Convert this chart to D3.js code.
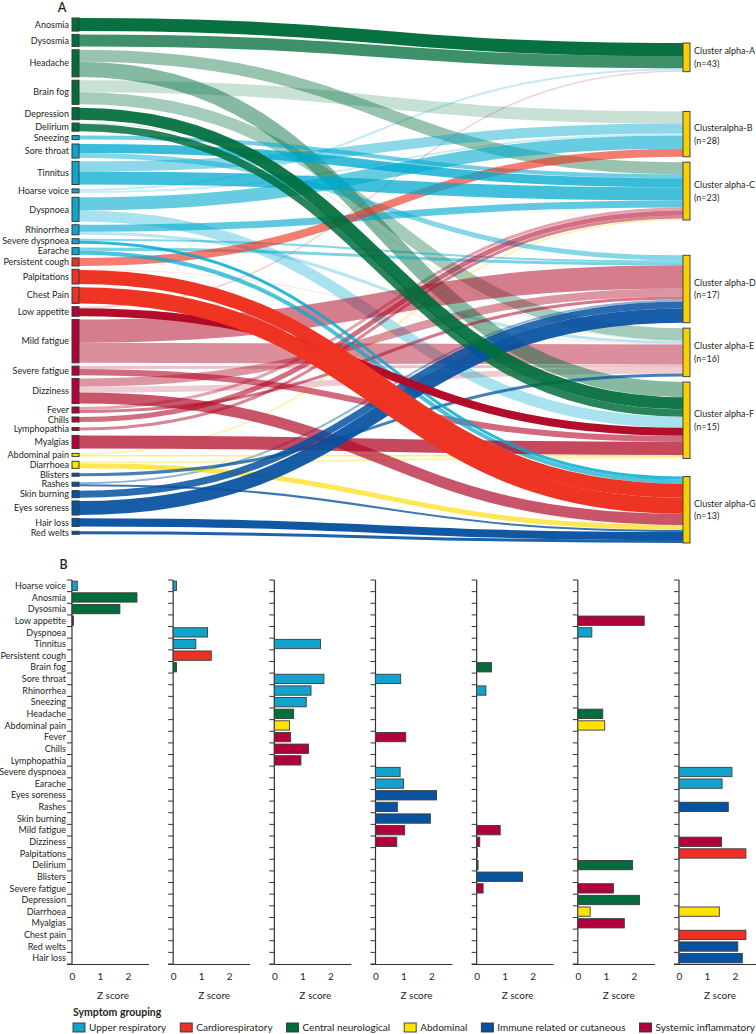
<!DOCTYPE html>
<html><head><meta charset="utf-8">
<script src="https://cdn.jsdelivr.net/npm/d3@7/dist/d3.min.js"></script>
<style>
body{margin:0;background:#fff}
svg{display:block}
text{font-family:Lato,"Open Sans",sans-serif;fill:#231f20}
</style></head>
<body><svg id="c" width="756" height="1034"></svg>
<script>
// ---------------- DATA ----------------
const groups = ["Upper respiratory","Cardiorespiratory","Central neurological","Abdominal","Immune related or cutaneous","Systemic inflammatory"];

// Panel A left nodes (top to bottom) and their symptom grouping
const symptoms = ["Anosmia","Dysosmia","Headache","Brain fog","Depression","Delirium","Sneezing","Sore throat","Tinnitus","Hoarse voice","Dyspnoea","Rhinorrhea","Severe dyspnoea","Earache","Persistent cough","Palpitations","Chest Pain","Low appetite","Mild fatigue","Severe fatigue","Dizziness","Fever","Chills","Lymphopathia","Myalgias","Abdominal pain","Diarrhoea","Blisters","Rashes","Skin burning","Eyes soreness","Hair loss","Red welts"];
const symptomGroup = ["Central neurological","Central neurological","Central neurological","Central neurological","Central neurological","Central neurological","Upper respiratory","Upper respiratory","Upper respiratory","Upper respiratory","Upper respiratory","Upper respiratory","Upper respiratory","Upper respiratory","Cardiorespiratory","Cardiorespiratory","Cardiorespiratory","Systemic inflammatory","Systemic inflammatory","Systemic inflammatory","Systemic inflammatory","Systemic inflammatory","Systemic inflammatory","Systemic inflammatory","Systemic inflammatory","Abdominal","Abdominal","Immune related or cutaneous","Immune related or cutaneous","Immune related or cutaneous","Immune related or cutaneous","Immune related or cutaneous","Immune related or cutaneous"];

// Clusters (right nodes)
const clusterKeys = ["A","B","C","D","E","F","G"];
const clusterNames = ["Cluster alpha-A","Clusteralpha-B","Cluster alpha-C","Cluster alpha-D","Cluster alpha-E","Cluster alpha-F","Cluster alpha-G"];
const clusterN = [43,28,23,17,16,15,13];

// Flows: [symptom, cluster, value]
const flows = [
  ["Anosmia","A",13],["Dysosmia","A",12],
  ["Headache","C",12],["Headache","F",15],
  ["Brain fog","B",12],["Brain fog","E",12],
  ["Depression","F",12],
  ["Delirium","E",0.6],["Delirium","F",7.5],
  ["Sneezing","C",4],
  ["Sore throat","C",9],["Sore throat","D",5],
  ["Tinnitus","B",10],["Tinnitus","C",13],
  ["Hoarse voice","A",2],["Hoarse voice","B",2],
  ["Dyspnoea","B",13],["Dyspnoea","F",11],
  ["Rhinorrhea","C",7],["Rhinorrhea","E",3],
  ["Severe dyspnoea","D",2],["Severe dyspnoea","G",3],
  ["Earache","D",3],["Earache","G",4],
  ["Persistent cough","B",8],
  ["Palpitations","E",0.6],["Palpitations","G",14],
  ["Chest Pain","G",16],
  ["Low appetite","A",1.5],["Low appetite","F",8],
  ["Mild fatigue","D",23],["Mild fatigue","E",20],
  ["Severe fatigue","E",3],["Severe fatigue","F",6],
  ["Dizziness","D",8],["Dizziness","E",6],["Dizziness","G",11],
  ["Fever","C",3],["Fever","D",3],
  ["Chills","C",5],
  ["Lymphopathia","C",3],
  ["Myalgias","F",13],
  ["Abdominal pain","C",1.5],["Abdominal pain","F",1.5],
  ["Diarrhoea","F",2],["Diarrhoea","G",5],
  ["Blisters","E",3],
  ["Rashes","D",2],["Rashes","G",2],
  ["Skin burning","D",7],
  ["Eyes soreness","D",14],
  ["Hair loss","G",8],
  ["Red welts","G",3]
];

// Panel B rows (top to bottom)
const zRows = ["Hoarse voice","Anosmia","Dysosmia","Low appetite","Dyspnoea","Tinnitus","Persistent cough","Brain fog","Sore throat","Rhinorrhea","Sneezing","Headache","Abdominal pain","Fever","Chills","Lymphopathia","Severe dyspnoea","Earache","Eyes soreness","Rashes","Skin burning","Mild fatigue","Dizziness","Palpitations","Delirium","Blisters","Severe fatigue","Depression","Diarrhoea","Myalgias","Chest pain","Red welts","Hair loss"];
const xTicks = [0,1,2];

// Z scores per cluster
const zA = [["Hoarse voice",0.19],["Anosmia",2.32],["Dysosmia",1.71],["Low appetite",0.05]];
const zB = [["Hoarse voice",0.12],["Dyspnoea",1.23],["Tinnitus",0.81],["Persistent cough",1.36],["Brain fog",0.12]];
const zC = [["Tinnitus",1.65],["Sore throat",1.77],["Rhinorrhea",1.31],["Sneezing",1.14],["Headache",0.69],["Abdominal pain",0.54],["Fever",0.58],["Chills",1.22],["Lymphopathia",0.95]];
const zD = [["Sore throat",0.9],["Fever",1.08],["Severe dyspnoea",0.88],["Earache",1.0],["Eyes soreness",2.18],["Rashes",0.78],["Skin burning",1.96],["Mild fatigue",1.04],["Dizziness",0.76]];
const zE = [["Brain fog",0.53],["Rhinorrhea",0.33],["Mild fatigue",0.84],["Dizziness",0.11],["Palpitations",0.02],["Delirium",0.05],["Blisters",1.64],["Severe fatigue",0.23]];
const zF = [["Low appetite",2.37],["Dyspnoea",0.5],["Headache",0.89],["Abdominal pain",0.96],["Delirium",1.95],["Severe fatigue",1.27],["Depression",2.2],["Diarrhoea",0.44],["Myalgias",1.66]];
const zG = [["Severe dyspnoea",1.89],["Earache",1.54],["Rashes",1.76],["Dizziness",1.52],["Palpitations",2.39],["Diarrhoea",1.44],["Chest pain",2.39],["Red welts",2.1],["Hair loss",2.26]];
const zSets = [zA,zB,zC,zD,zE,zF,zG];

// ---------------- STYLE / LAYOUT ----------------
const color = d3.scaleOrdinal().domain(groups)
  .range(["#12a3cc","#ec3126","#006d3b","#ffe200","#0752a1","#b1003a"]);
const linkColor = d3.scaleOrdinal().domain(groups)
  .range(["#00a9cf","#ee3322","#006d3b","#ffd900","#0550a0","#b10a28"]);
// relative spacing between cluster boxes (layout only)
const clusterGapWeights = [44,6,39,6,6,20];
const svg = d3.select("#c");
const groupOf = new Map(symptoms.map((s,i)=>[s.toLowerCase(), symptomGroup[i]]));

// ---------------- PANEL A: Sankey ----------------
const nodeX0 = 72, nodeW = 7, rightX0 = 683;
const leftTop = 18, leftBottom = 534, rightTop = 43, rightBottom = 543, leftPad = 3.3, minSlot = 6.2;

const symIndex = new Map(symptoms.map((s,i)=>[s,i]));
const cluIndex = new Map(clusterKeys.map((c,i)=>[c,i]));
const links = flows.map(([s,c,v]) => ({s, c, v, si: symIndex.get(s), ci: cluIndex.get(c)}));
const outSum = symptoms.map((s,i)=>d3.sum(links.filter(l=>l.si===i), l=>l.v));
const inSum = clusterKeys.map((k,i)=>d3.sum(links.filter(l=>l.ci===i), l=>l.v));
const total = d3.sum(outSum);
const avail = (leftBottom-leftTop) - leftPad*(symptoms.length-1);
const k0 = avail/total;
const extra = d3.sum(outSum, v=>Math.max(0, minSlot - v*k0));
const vy = d3.scaleLinear().domain([0,total]).range([0, avail - extra]);

let yy = leftTop;
const leftNodes = symptoms.map((s,i)=>{
  const h=vy(outSum[i]); const slot=Math.max(h,minSlot);
  const top = yy + (slot-h)/2;
  const n={name:s,group:symptomGroup[i],y0:top,y1:top+h}; yy+=slot+leftPad; return n;});
const freeRight = (rightBottom-rightTop) - vy(total);
const gapScale = d3.scaleLinear().domain([0,d3.sum(clusterGapWeights)]).range([0,freeRight]);
yy = rightTop;
const rightNodes = clusterKeys.map((k,i)=>{const h=vy(inSum[i]); const n={name:clusterNames[i],n:clusterN[i],y0:yy,y1:yy+h}; yy+=h+(i<clusterGapWeights.length?gapScale(clusterGapWeights[i]):0); return n;});

leftNodes.forEach((n,i)=>{let y=n.y0; links.filter(l=>l.si===i).sort((a,b)=>a.ci-b.ci).forEach(l=>{l.w=vy(l.v); l.y0=y+l.w/2; y+=l.w;});});
rightNodes.forEach((n,i)=>{let y=n.y0; links.filter(l=>l.ci===i).sort((a,b)=>a.si-b.si).forEach(l=>{l.y1=y+l.w/2; y+=l.w;});});

// z lookup for link opacity
const zLookup = new Map();
zSets.forEach((set,ci)=>set.forEach(([name,z])=>zLookup.set(clusterKeys[ci]+"|"+name.toLowerCase(), z)));
links.forEach(l=>{l.z = zLookup.get(l.c+"|"+l.s.toLowerCase()) ?? 0.3;});
const opac = d3.scaleLinear().domain([0,2.4]).range([0.17,1]).clamp(true);

const linkGen = d3.linkHorizontal().source(d=>[nodeX0+nodeW, d.y0]).target(d=>[rightX0, d.y1]);
svg.append("g").attr("fill","none")
  .selectAll("path").data(links.slice().sort((a,b)=>a.z-b.z)).join("path")
  .attr("d", linkGen)
  .attr("stroke", d=>linkColor(symptomGroup[d.si]))
  .attr("stroke-opacity", d=>opac(d.z))
  .attr("stroke-width", d=>Math.max(0.8,d.w));

svg.append("g").selectAll("rect").data(leftNodes).join("rect")
  .attr("x",nodeX0).attr("y",d=>d.y0).attr("width",nodeW).attr("height",d=>Math.max(1.5,d.y1-d.y0))
  .attr("fill",d=>color(d.group)).attr("stroke","#3a3a3a").attr("stroke-width",1);

svg.append("g").selectAll("text").data(leftNodes).join("text")
  .attr("x",nodeX0-3).attr("y",d=>(d.y0+d.y1)/2).attr("dy","0.35em")
  .attr("text-anchor","end").attr("font-size",9).text(d=>d.name);

svg.append("g").selectAll("rect").data(rightNodes).join("rect")
  .attr("x",rightX0).attr("y",d=>d.y0).attr("width",nodeW).attr("height",d=>d.y1-d.y0)
  .attr("fill","#f7d000").attr("stroke","#444").attr("stroke-width",1);

const rl = svg.append("g").selectAll("text").data(rightNodes).join("text")
  .attr("x",rightX0+11).attr("y",d=>(d.y0+d.y1)/2).attr("font-size",9);
rl.append("tspan").attr("x",rightX0+11).attr("dy","-0.35em").text(d=>d.name);
rl.append("tspan").attr("x",rightX0+11).attr("dy","1.4em").text(d=>`(n=${d.n})`);

svg.append("text").attr("x",62).attr("y",12).attr("text-anchor","middle")
  .attr("font-size",12.5).attr("font-weight",600).text("A");

// ---------------- PANEL B: z score bars ----------------
const bTop = 580, bBottom = 964;
const rowY = d3.scaleBand().domain(zRows).range([bTop,bBottom]).paddingInner(0.2).paddingOuter(0.1);
const rowB = d3.scaleLinear().domain([0,zRows.length]).range([bTop,bBottom]);
const panelX = d3.scaleLinear().domain([0,6]).range([72,679]);

svg.append("text").attr("x",63.5).attr("y",569).attr("text-anchor","middle")
  .attr("font-size",12.5).attr("font-weight",600).text("B");

svg.append("g").selectAll("text").data(zRows).join("text")
  .attr("x",66).attr("y",d=>rowY(d)+rowY.bandwidth()/2).attr("dy","0.35em")
  .attr("text-anchor","end").attr("font-size",9).text(d=>d);

zSets.forEach((set,pi)=>{
  const x0 = panelX(pi);
  const xs = d3.scaleLinear().domain([0,2.75]).range([x0,x0+77]);
  const g = svg.append("g");
  g.selectAll("line.yt").data(d3.range(zRows.length+1)).join("line")
    .attr("x1",x0-5).attr("x2",x0).attr("y1",d=>rowB(d)).attr("y2",d=>rowB(d))
    .attr("stroke","#333").attr("stroke-width",1);
  g.append("line").attr("x1",x0).attr("x2",x0).attr("y1",bTop).attr("y2",bBottom+0.5)
    .attr("stroke","#333").attr("stroke-width",1.2);
  g.append("line").attr("x1",x0-5).attr("x2",x0+77).attr("y1",bBottom+0.5).attr("y2",bBottom+0.5)
    .attr("stroke","#333").attr("stroke-width",1.2);
  g.selectAll("rect").data(set).join("rect")
    .attr("x",xs(0)).attr("y",d=>rowY(d[0])).attr("height",rowY.bandwidth())
    .attr("width",d=>Math.max(0.6,xs(d[1])-xs(0)))
    .attr("fill",d=>color(groupOf.get(d[0].toLowerCase())))
    .attr("stroke","#3c3c3c").attr("stroke-width",0.9);
  const ax = g.append("g").attr("transform",`translate(0,${bBottom})`)
    .call(d3.axisBottom(xs).tickValues(xTicks).tickSize(0).tickPadding(9).tickFormat(d3.format("d")));
  ax.select(".domain").remove();
  ax.selectAll("text").attr("font-size",10).attr("font-family","Lato,'Open Sans',sans-serif").attr("fill","#333");
  g.append("text").attr("x",x0+41).attr("y",999).attr("text-anchor","middle")
    .attr("font-size",10).attr("fill","#333").text("Z score");
});

// ---------------- LEGEND ----------------
svg.append("text").attr("x",73).attr("y",1015.5).attr("font-size",10.5).attr("font-weight",700)
  .text("Symptom grouping");
const lg = svg.append("g");
const items = lg.selectAll("g").data(groups).join("g");
items.append("rect").attr("y",1023).attr("width",12).attr("height",9)
  .attr("fill",d=>color(d)).attr("stroke","#333").attr("stroke-width",0.9);
items.append("text").attr("x",16).attr("y",1031).attr("font-size",10).text(d=>d);
const widths = items.nodes().map(n=>d3.select(n).select("text").node().getComputedTextLength());
const gap = (755 - 73 - d3.sum(widths.map(w=>16+w)))/(groups.length-1);
let lx = 73;
items.each(function(d,i){ d3.select(this).attr("transform",`translate(${lx},0)`); lx += 16 + widths[i] + gap; });
</script></body></html>
